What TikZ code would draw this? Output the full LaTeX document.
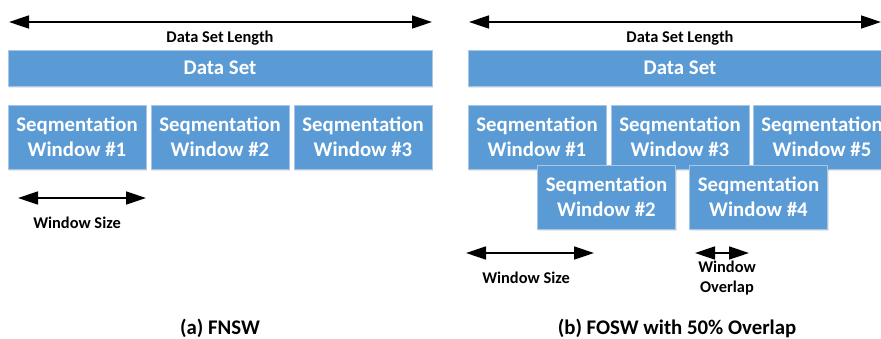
\documentclass[tikz,border=0pt]{standalone}
\usepackage{fontspec}
\setmainfont{Carlito}
\usetikzlibrary{arrows.meta,shadows}
\definecolor{boxblue}{HTML}{5B9BD5}
\definecolor{boxedge}{HTML}{A9C6E6}
\begin{document}
\begin{tikzpicture}[x=1pt,y=-1pt,
  blk/.style={draw=boxedge, line width=0.8pt, fill=boxblue, text=white,
    font=\bfseries\fontsize{20.8}{25}\selectfont, align=center,
    inner sep=0pt, minimum height=64pt, minimum width=138pt,
    drop shadow={opacity=0.18, shadow xshift=1pt, shadow yshift=-2pt}},
  bar/.style={blk, minimum height=36pt, minimum width=424pt},
  dim/.style={line width=1.5pt, {Triangle[length=20pt,width=13pt]}-{Triangle[length=20pt,width=13pt]}},
  lbl/.style={font=\bfseries\fontsize{16.4}{20}\selectfont, align=center, inner sep=0pt},
  captext/.style={font=\bfseries\fontsize{20.8}{24}\selectfont, inner sep=0pt}]
\useasboundingbox (0,0) rectangle (881,338);

% (a) fixed non-overlapping windows
\coordinate (aL) at (9,22);
\coordinate (aR) at (432,22);
\draw[dim] (aL) -- (aR);
\node[lbl] (alen) at (220,38) {Data Set Length};
\node[bar] (ads) at (220,68) {Data Set};
\node[blk] (aw1) at (77,137) {Seqmentation\\Window \#1};
\node[blk] (aw2) at (220,137) {Seqmentation\\Window \#2};
\node[blk] (aw3) at (363,137) {Seqmentation\\Window \#3};
\coordinate (asL) at (18,198);
\coordinate (asR) at (146,198);
\draw[dim] (asL) -- (asR);
\node[lbl] (asize) at (77,223) {Window Size};
\node[captext] (acap) at (220,328) {(a) FNSW};

% (b) overlapping windows
\coordinate (bL) at (469,22);
\coordinate (bR) at (881,22);
\draw[dim] (bL) -- (bR);
\node[lbl] (blen) at (680,38) {Data Set Length};
\node[bar] (bds) at (680,68) {Data Set};
\node[blk] (bw1) at (537,137) {Seqmentation\\Window \#1};
\node[blk] (bw3) at (680,137) {Seqmentation\\Window \#3};
\node[blk] (bw5) at (822,137) {Seqmentation\\Window \#5};
\node[blk] (bw2) at (606.5,197) {Seqmentation\\Window \#2};
\node[blk] (bw4) at (758.5,197) {Seqmentation\\Window \#4};
\coordinate (bsL) at (466,253);
\coordinate (bsR) at (594,253);
\draw[dim] (bsL) -- (bsR);
\node[lbl] (bsize) at (526,278) {Window Size};
\coordinate (boL) at (695,253);
\coordinate (boR) at (749,253);
\draw[dim] (boL) -- (boR);
\node[lbl] (bover) at (727,278) {Window\\Overlap};
\node[captext] (bcap) at (677,328) {(b) FOSW with 50\% Overlap};
\end{tikzpicture}
\end{document}
